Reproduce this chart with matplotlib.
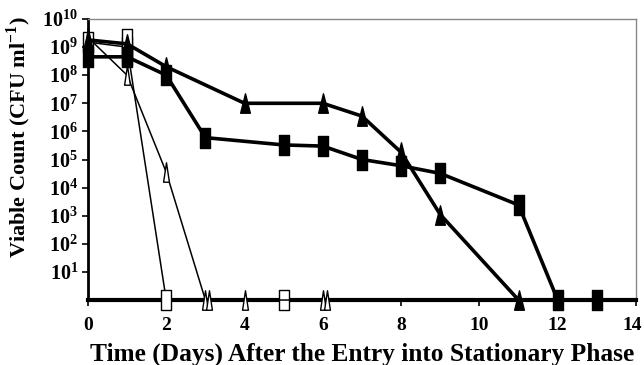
import numpy as np
import matplotlib
matplotlib.use("Agg")
import matplotlib.pyplot as plt
from matplotlib.path import Path
from matplotlib.transforms import ScaledTranslation

# zero counts are drawn on the bottom axis (value 1)
sq_fill_x = [0, 1, 2, 3, 5, 6, 7, 8, 9, 11, 12, 13]
sq_fill_y = [4.5e8, 4.5e8, 1e8, 6e5, 3.3e5, 3e5, 1e5, 6e4, 3.2e4, 2.4e3, 1, 1]

tri_fill_x = [0, 1, 2, 4, 6, 7, 8, 9, 11]
tri_fill_y = [1.8e9, 1.3e9, 2e8, 1e7, 1e7, 3.5e6, 1.8e5, 1.1e3, 1]

sq_open_x = [0, 1, 2, 5]
sq_open_y = [1.5e9, 1e9, 1, 1]

tri_open_x = [0, 1, 2, 3, 4, 6]
tri_open_y = [2.2e9, 1e8, 3.5e4, 1, 1, 1]

tri_open2_x = [3, 6]
tri_open2_y = [1, 1]

x_ticks = [0, 2, 4, 6, 8, 10, 12, 14]
y_ticks = [10 ** k for k in range(1, 11)]
y_labels = [r"$\mathbf{10^{%d}}$" % k for k in range(1, 11)]

plt.rcParams["font.family"] = ["Liberation Serif", "DejaVu Serif"]
plt.rcParams["mathtext.fontset"] = "custom"
plt.rcParams["mathtext.rm"] = "Liberation Serif"
plt.rcParams["mathtext.bf"] = "Liberation Serif:bold"

# tall narrow markers, like the stretched original
rect = Path([(-0.55, -1), (0.55, -1), (0.55, 1), (-0.55, 1), (-0.55, -1)],
            [Path.MOVETO, Path.LINETO, Path.LINETO, Path.LINETO, Path.CLOSEPOLY])
rect_tall = Path([(-0.3, -1), (0.3, -1), (0.3, 1), (-0.3, 1), (-0.3, -1)],
                 [Path.MOVETO, Path.LINETO, Path.LINETO, Path.LINETO, Path.CLOSEPOLY])
tri = Path([(-0.5, -1), (0.5, -1), (0, 1), (-0.5, -1)],
           [Path.MOVETO, Path.LINETO, Path.LINETO, Path.CLOSEPOLY])
tri_thin = Path([(-0.3, -1), (0.3, -1), (0, 1), (-0.3, -1)],
                [Path.MOVETO, Path.LINETO, Path.LINETO, Path.CLOSEPOLY])

fig = plt.figure(figsize=(6.44, 3.65), dpi=100)
ax = fig.add_axes([0.1366, 0.178, 0.851, 0.770])

ax.plot(sq_open_x, sq_open_y, color="black", lw=1.1, marker=rect, ms=14,
        mfc="white", mec="black", mew=1.0, clip_on=False, zorder=3)
ax.plot(sq_open_x[1:2], sq_open_y[1:2], ls="none", marker=rect_tall, ms=26,
        mfc="white", mec="black", mew=1.0, clip_on=False, zorder=3)
ax.plot(tri_open_x, tri_open_y, color="black", lw=1.1, marker=tri_thin, ms=14,
        mfc="white", mec="black", mew=1.0, clip_on=False, zorder=3)
ax.plot(tri_open2_x, tri_open2_y, ls="none", marker=tri_thin, ms=14,
        mfc="white", mec="black", mew=1.0, clip_on=False, zorder=3,
        transform=ax.transData + ScaledTranslation(4 / 100, 0, fig.dpi_scale_trans))
ax.plot(tri_fill_x, tri_fill_y, color="black", lw=2.6, marker=tri, ms=14,
        mfc="black", mec="black", clip_on=False, zorder=4)
ax.plot(sq_fill_x, sq_fill_y, color="black", lw=2.6, marker=rect, ms=14,
        mfc="black", mec="black", clip_on=False, zorder=4)

ax.set_yscale("log")
ax.set_ylim(1, 1e10)
ax.set_xlim(0, 14)
ax.set_xticks(x_ticks)
ax.set_xticklabels([str(t) for t in x_ticks], fontsize=14, fontweight="bold")
ax.set_yticks(y_ticks)
ax.set_yticklabels(y_labels, fontsize=14.5)
ax.yaxis.set_minor_locator(matplotlib.ticker.NullLocator())
ax.tick_params(axis="both", direction="out", length=4, width=1.2, pad=3)
ax.tick_params(axis="x", pad=8)

# keep the last x label inside the figure
last = ax.get_xticklabels()[-1]
last.set_transform(last.get_transform() + ScaledTranslation(-4 / 100, 0, fig.dpi_scale_trans))

ax.spines["left"].set_linewidth(2)
ax.spines["bottom"].set_linewidth(3)
for s in ["top", "right"]:
    ax.spines[s].set_color("#888888")
    ax.spines[s].set_linewidth(1)

ax.set_ylabel(r"Viable Count (CFU ml$^{\mathbf{-1}}$)", fontsize=16, fontweight="bold")
ax.yaxis.set_label_coords(-0.100, 0.58)
ax.set_xlabel("Time (Days) After the Entry into Stationary Phase", fontsize=18.3,
              fontweight="bold")
ax.xaxis.set_label_coords(0.5, -0.15)

fig.savefig("out.png", dpi=100)
